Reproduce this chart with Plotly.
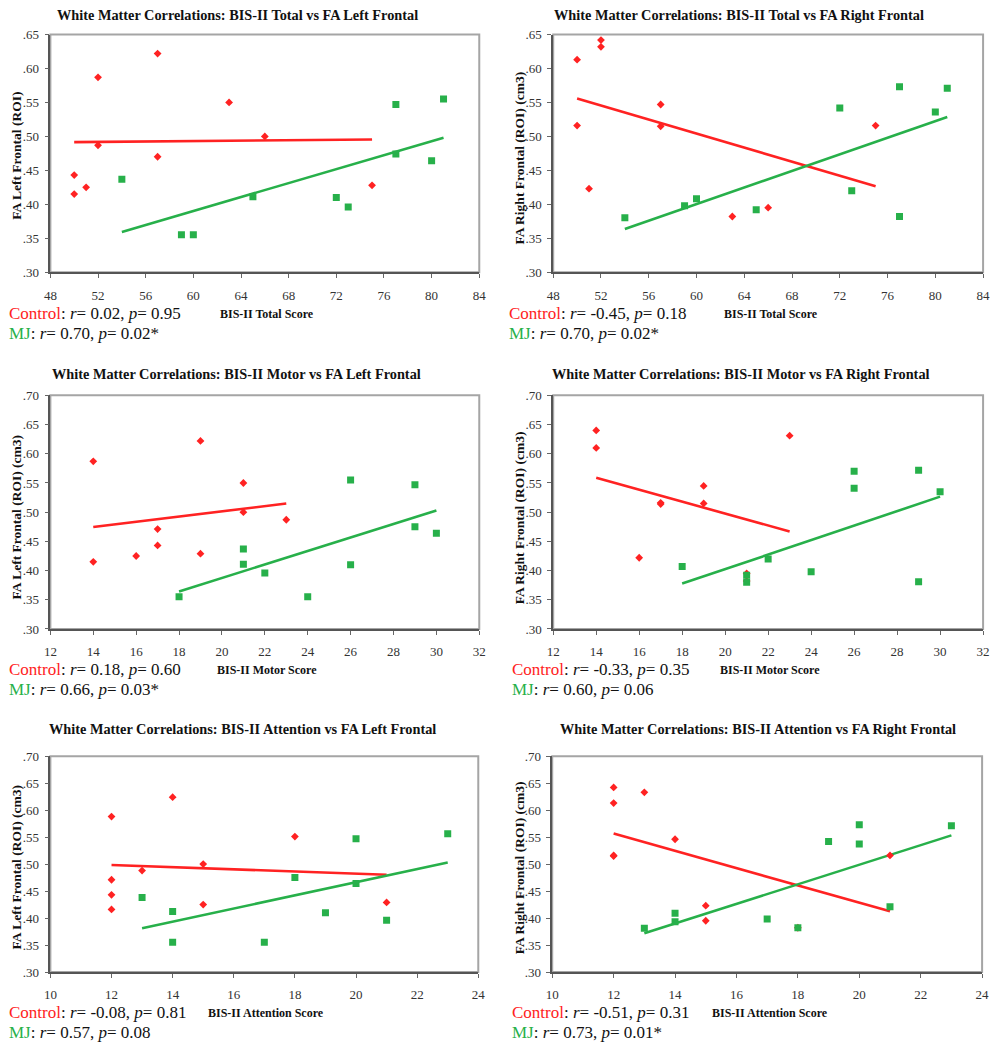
import numpy as np
import plotly.graph_objects as go

RED = "#FF2222"
GREEN = "#27B04A"
FONT = "Liberation Serif"

# ---------------- data ----------------
# Panel 1: BIS-II Total vs FA Left Frontal
p1_ctrl_x = [50, 50, 51, 52, 52, 57, 57, 63, 66, 75]
p1_ctrl_y = [0.443, 0.415, 0.425, 0.587, 0.487, 0.622, 0.470, 0.550, 0.500, 0.428]
p1_mj_x = [54, 59, 60, 65, 72, 73, 77, 77, 80, 81]
p1_mj_y = [0.437, 0.355, 0.355, 0.411, 0.410, 0.396, 0.547, 0.474, 0.464, 0.555]

# Panel 2: BIS-II Total vs FA Right Frontal
p2_ctrl_x = [50, 50, 51, 52, 52, 57, 57, 63, 66, 75]
p2_ctrl_y = [0.613, 0.516, 0.423, 0.642, 0.632, 0.547, 0.515, 0.382, 0.395, 0.516]
p2_mj_x = [54, 59, 60, 65, 72, 73, 77, 77, 80, 81]
p2_mj_y = [0.380, 0.398, 0.408, 0.392, 0.542, 0.420, 0.573, 0.382, 0.536, 0.571]

# Panel 3: BIS-II Motor vs FA Left Frontal
p3_ctrl_x = [14, 14, 16, 17, 17, 19, 19, 21, 21, 23]
p3_ctrl_y = [0.587, 0.415, 0.425, 0.471, 0.443, 0.622, 0.429, 0.550, 0.500, 0.487]
p3_mj_x = [18, 21, 21, 22, 24, 26, 26, 29, 29, 30]
p3_mj_y = [0.355, 0.437, 0.411, 0.396, 0.355, 0.555, 0.410, 0.547, 0.475, 0.464]

# Panel 4: BIS-II Motor vs FA Right Frontal
p4_ctrl_x = [14, 14, 16, 17, 17, 19, 19, 21, 21, 23]
p4_ctrl_y = [0.640, 0.610, 0.422, 0.514, 0.516, 0.545, 0.515, 0.395, 0.382, 0.631]
p4_mj_x = [18, 21, 21, 22, 24, 26, 26, 29, 29, 30]
p4_mj_y = [0.407, 0.392, 0.380, 0.420, 0.398, 0.570, 0.541, 0.572, 0.381, 0.535]

# Panel 5: BIS-II Attention vs FA Left Frontal
p5_ctrl_x = [12, 12, 12, 12, 13, 14, 15, 15, 18, 21]
p5_ctrl_y = [0.588, 0.471, 0.443, 0.416, 0.488, 0.624, 0.500, 0.425, 0.551, 0.429]
p5_mj_x = [13, 14, 14, 17, 18, 19, 20, 20, 21, 23]
p5_mj_y = [0.438, 0.412, 0.355, 0.355, 0.475, 0.410, 0.547, 0.464, 0.396, 0.556]

# Panel 6: BIS-II Attention vs FA Right Frontal
p6_ctrl_x = [12, 12, 12, 12, 13, 14, 15, 15, 18, 21]
p6_ctrl_y = [0.642, 0.613, 0.516, 0.515, 0.633, 0.546, 0.423, 0.395, 0.382, 0.516]
p6_mj_x = [13, 14, 14, 17, 18, 19, 20, 20, 21, 23]
p6_mj_y = [0.381, 0.409, 0.393, 0.398, 0.382, 0.542, 0.573, 0.537, 0.421, 0.571]

titles = [
    "White Matter Correlations: BIS-II Total vs FA Left Frontal",
    "White Matter Correlations: BIS-II Total vs FA Right Frontal",
    "White Matter Correlations: BIS-II Motor vs FA Left Frontal",
    "White Matter Correlations: BIS-II Motor vs FA Right Frontal",
    "White Matter Correlations: BIS-II Attention vs FA Left Frontal",
    "White Matter Correlations: BIS-II Attention vs FA Right Frontal",
]
x_titles = ["BIS-II Total Score", "BIS-II Total Score",
            "BIS-II Motor Score", "BIS-II Motor Score",
            "BIS-II Attention Score", "BIS-II Attention Score"]
y_titles = ["FA Left Frontal (ROI)", "FA Right Frontal (ROI) (cm3)",
            "FA Left Frontal (ROI) (cm3)", "FA Right Frontal (ROI) (cm3)",
            "FA Left Frontal (ROI) (cm3)", "FA Right Frontal (ROI) (cm3)"]
ctrl_r = ["0.02", "-0.45", "0.18", "-0.33", "-0.08", "-0.51"]
ctrl_p = ["0.95", "0.18", "0.60", "0.35", "0.81", "0.31"]
mj_r = ["0.70", "0.70", "0.66", "0.60", "0.57", "0.73"]
mj_p = ["0.02*", "0.02*", "0.03*", "0.06", "0.08", "0.01*"]

x_ranges = [(48, 84), (48, 84), (12, 32), (12, 32), (10, 24), (10, 24)]
x_dticks = [4, 4, 2, 2, 2, 2]
y_ranges = [(0.30, 0.65), (0.30, 0.65), (0.30, 0.70), (0.30, 0.70), (0.30, 0.70), (0.30, 0.70)]

ctrl_x = [p1_ctrl_x, p2_ctrl_x, p3_ctrl_x, p4_ctrl_x, p5_ctrl_x, p6_ctrl_x]
ctrl_y = [p1_ctrl_y, p2_ctrl_y, p3_ctrl_y, p4_ctrl_y, p5_ctrl_y, p6_ctrl_y]
mj_x = [p1_mj_x, p2_mj_x, p3_mj_x, p4_mj_x, p5_mj_x, p6_mj_x]
mj_y = [p1_mj_y, p2_mj_y, p3_mj_y, p4_mj_y, p5_mj_y, p6_mj_y]

# ---------------- layout geometry (pixels) ----------------
W, H = 996, 1050
# plot areas: (left, right, top, bottom)
areas = [(44, 479, 28, 269), (554, 990, 28, 269),
         (44, 479, 394, 631), (554, 990, 394, 631),
         (44, 478, 760, 979), (553, 989, 760, 979)]
title_pos = [(234, 8), (742, 8), (233, 372), (744, 372), (239, 732), (762, 732)]
ytitle_pos = [(10, 151), (520, 153), (10, 518), (520, 518), (10, 873), (520, 873)]
xtitle_pos = [(264, 311), (775, 311), (264, 673), (774, 673), (263, 1021), (774, 1021)]
stat_pos = [(0, 311), (507, 311), (0, 672), (510, 672), (0, 1020), (510, 1020)]
stat_gap = 20


def PX(x):
    return x / W


def PY(y):
    return 1 - y / H


fig = go.Figure()
annotations = []
shapes = []

for i in range(6):
    n = i + 1
    xa = "x" if n == 1 else f"x{n}"
    ya = "y" if n == 1 else f"y{n}"

    # trend lines (least squares fits)
    for xs, ys, col in ((ctrl_x[i], ctrl_y[i], RED), (mj_x[i], mj_y[i], GREEN)):
        k, b = np.polyfit(xs, ys, 1)
        xl = np.array([min(xs), max(xs)], dtype=float)
        fig.add_trace(go.Scatter(x=xl, y=k * xl + b, mode="lines",
                                 line=dict(color=col, width=2.6),
                                 xaxis=xa, yaxis=ya, showlegend=False,
                                 hoverinfo="skip"))
    fig.add_trace(go.Scatter(x=ctrl_x[i], y=ctrl_y[i], mode="markers",
                             marker=dict(symbol="diamond", size=6, color=RED),
                             xaxis=xa, yaxis=ya, showlegend=False, name="Control"))
    fig.add_trace(go.Scatter(x=mj_x[i], y=mj_y[i], mode="markers",
                             marker=dict(symbol="square", size=7, color=GREEN),
                             xaxis=xa, yaxis=ya, showlegend=False, name="MJ"))

    l, r, t, bt = areas[i]
    x0, x1 = x_ranges[i]
    y0, y1 = y_ranges[i]
    xt = list(range(x0, x1 + 1, x_dticks[i]))
    yt = list(np.round(np.arange(y0, y1 + 1e-9, 0.05), 2))
    ytt = [f"{v:.2f}".lstrip("0") for v in yt]

    axis_common = dict(showgrid=False, zeroline=False, showline=True,
                       linecolor="#555555", linewidth=1.5,
                       ticks="outside", ticklen=4, tickcolor="#666666",
                       tickfont=dict(family=FONT, size=13, color="#333333"))
    fig.layout[f"xaxis{'' if n == 1 else n}"] = dict(
        domain=[PX(l), PX(r)], range=[x0, x1], anchor=ya,
        tickvals=xt, ticktext=[str(v) for v in xt], ticklabelstandoff=6,
        **axis_common)
    fig.layout[f"yaxis{'' if n == 1 else n}"] = dict(
        domain=[PY(bt), PY(t)], range=[y0, y1], anchor=xa,
        tickvals=yt, ticktext=ytt, ticklabelstandoff=3,
        **axis_common)

    # light grey frame (top/right border)
    shapes.append(dict(type="rect", xref=f"{xa} domain", yref=f"{ya} domain",
                       x0=0, x1=1, y0=0, y1=1, layer="below",
                       line=dict(color="#A5A5A5", width=2)))

    tx, ty = title_pos[i]
    annotations.append(dict(text=f"<b>{titles[i]}</b>", x=PX(tx), y=PY(ty),
                            xref="paper", yref="paper", showarrow=False,
                            xanchor="center", yanchor="middle",
                            font=dict(family=FONT, size=14.3, color="#111111")))
    yx, yy = ytitle_pos[i]
    annotations.append(dict(text=f"<b>{y_titles[i]}</b>", x=PX(yx), y=PY(yy),
                            xref="paper", yref="paper", showarrow=False,
                            textangle=-90, xanchor="center", yanchor="middle",
                            font=dict(family=FONT, size=13.5, color="#111111")))
    xx, xy = xtitle_pos[i]
    annotations.append(dict(text=f"<b>{x_titles[i]}</b>", x=PX(xx), y=PY(xy),
                            xref="paper", yref="paper", showarrow=False,
                            xanchor="center", yanchor="middle",
                            font=dict(family=FONT, size=12, color="#111111")))
    sx, sy = stat_pos[i]
    ctrl_txt = (f"<span style='color:{RED}'>Control</span>: <i>r</i>= {ctrl_r[i]}, "
                f"<i>p</i>= {ctrl_p[i]}")
    mj_txt = (f"<span style='color:{GREEN}'>MJ</span>: <i>r</i>= {mj_r[i]}, "
              f"<i>p</i>= {mj_p[i]}")
    annotations.append(dict(text=ctrl_txt, x=PX(sx), y=PY(sy),
                            xref="paper", yref="paper", showarrow=False,
                            xanchor="left", yanchor="middle",
                            font=dict(family=FONT, size=17, color="#111111")))
    annotations.append(dict(text=mj_txt, x=PX(sx), y=PY(sy + stat_gap),
                            xref="paper", yref="paper", showarrow=False,
                            xanchor="left", yanchor="middle",
                            font=dict(family=FONT, size=17, color="#111111")))

fig.update_layout(width=W, height=H, autosize=False,
                  margin=dict(l=0, r=0, t=0, b=0),
                  paper_bgcolor="white", plot_bgcolor="white",
                  annotations=annotations, shapes=shapes,
                  font=dict(family=FONT))

fig.write_html("out.html", config={"displayModeBar": False},
               post_script="document.body.style.margin='0px';"
                           "document.body.style.overflow='hidden';")
